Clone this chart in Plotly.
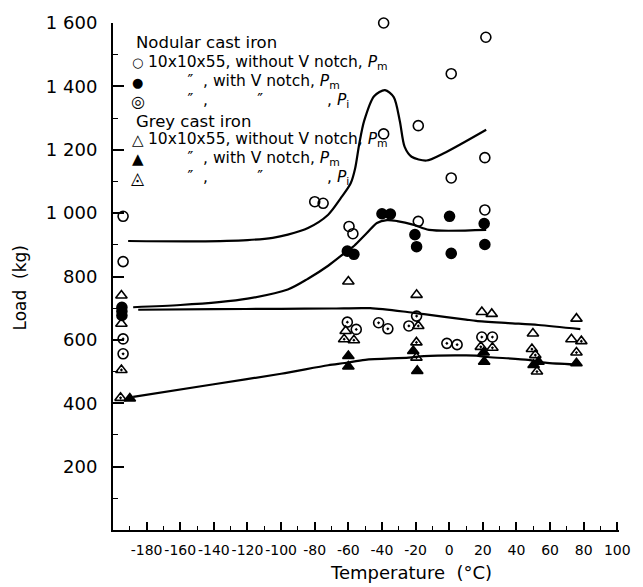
import plotly.graph_objects as go

# ---------------- data ----------------
# Nodular cast iron, 10x10x55 without V notch, Pm (open circles)
nod_plain_T = [-194, -194, -80, -75, -59.6, -57.3, -39, -39, -18.4, -18.4, 1.2, 1.2, 21.8, 21.2, 21.2]
nod_plain_L = [990, 847, 1036, 1031, 958, 935, 1600, 1250, 1276, 974, 1440, 1111, 1555, 1175, 1010]

# Nodular, with V notch, Pm (filled circles)
nod_notch_T = [-194.7, -194.7, -194.7, -60.6, -56.7, -40, -35, -20.4, -19.4, 0.2, 1.2, 20.8, 21.2]
nod_notch_L = [703, 690, 677, 880, 870, 998, 997, 932, 894, 990, 873, 967, 901]

# Nodular, with V notch, Pi (target circles)
nod_pi_T = [-194, -194, -60.6, -55.3, -42, -36.5, -19.4, -24, -1.4, 4.7, 19.4, 25.7]
nod_pi_L = [603, 556, 656, 633, 654, 635, 675, 644, 589, 585, 609, 609]

# Grey cast iron, without V notch, Pm (open triangles)
grey_plain_T = [-195, -195, -60, -61.6, -19.4, 19.4, 25.3, 49.8, 75.7, 72.7]
grey_plain_L = [740, 651, 784, 628, 742, 688, 682, 620, 667, 602]

# Grey, with V notch, Pm (filled triangles)
grey_notch_T = [-190, -60, -60, -21.4, -19, 20.8, 20.5, 53.1, 50.2, 75.7]
grey_notch_L = [415, 549, 516, 565, 502, 531, 560, 531, 521, 526]

# Grey, with V notch, Pi (hatched triangles)
grey_pi_T = [-195, -195.5, -62.5, -56.7, -18.4, -19.5, -19.5, 18.8, 25.7, 49.2, 51.2, 52.2, 78.6, 75.7]
grey_pi_L = [505, 417, 602, 599, 644, 592, 544, 578, 575, 571, 552, 500, 596, 560]

# Fitted curves
curve1_T = [-191, -150, -120, -105, -96, -84, -72, -64.5, -58.6, -56, -53.5, -50.6, -44.7, -38.2,
            -33, -29.4, -26.5, -22.4, -13.5, -3.5, 22]
curve1_L = [912, 911, 915, 922, 932, 953, 995, 1047, 1094, 1140, 1219, 1291, 1369, 1388,
            1366, 1291, 1209, 1178, 1166, 1188, 1263]

curve2_T = [-188, -160, -137, -120, -96, -84, -72, -62, -56.5, -49, -43, -37, -31, -21, -12, 22]
curve2_L = [703, 710, 719, 730, 759, 793, 834, 875, 897, 937, 969, 978, 975, 963, 947, 947]

curve3_T = [-185, -140, -100, -70, -47, -25, -15, 10, 16, 35, 53, 78]
curve3_L = [695, 697, 698, 699, 700, 688, 681, 664, 660, 653, 647, 634]

curve4_T = [-188, -140, -100, -72, -62, -50, -24, -15, 10, 16, 23, 47, 57, 75]
curve4_L = [420, 460, 493, 520, 527, 537, 544, 549, 551, 550, 546, 537, 528, 522]

y_ticks = [200, 400, 600, 800, 1000, 1200, 1400, 1600]
y_ticktext = ["200", "400", "600", "800", "1 000", "1 200", "1 400", "1 600"]
x_ticks = list(range(-180, 101, 20))
x_ticktext = [str(v) for v in x_ticks]

# ---------------- figure ----------------
FONT = "DejaVu Sans"
NB = "\u00a0"
DIT = "\u2033"
Pm = "<i>P</i><sub>m</sub>"
Pi = "<i>P</i><sub>i</sub>"

row_plain = "10x10x55, without V notch, " + Pm
row_notch = NB * 8 + DIT + NB * 2 + ", with V notch, " + Pm
row_pi = NB * 8 + DIT + NB * 2 + "," + NB * 10 + DIT + NB * 13 + ", " + Pi

legend_rows = [
    (None, 0, "Nodular cast iron"),
    ("\u25cb", 13, row_plain),
    ("\u25cf", 13, row_notch),
    ("\u25ce", 16, row_pi),
    (None, 0, "Grey cast iron"),
    ("\u25b3", 15, row_plain),
    ("\u25b2", 15, row_notch),
    ("\u25ec", 17, row_pi),
]

fig = go.Figure()

for T, L in [(curve1_T, curve1_L), (curve2_T, curve2_L), (curve3_T, curve3_L), (curve4_T, curve4_L)]:
    fig.add_trace(go.Scatter(x=T, y=L, mode="lines", showlegend=False, hoverinfo="skip",
                             line=dict(color="black", width=2.2, shape="spline", smoothing=0.8)))

series = [
    (nod_plain_T, nod_plain_L, "circle-open"),
    (nod_notch_T, nod_notch_L, "circle"),
    (nod_pi_T, nod_pi_L, "circle-open-dot"),
    (grey_plain_T, grey_plain_L, "triangle-up-open"),
    (grey_notch_T, grey_notch_L, "triangle-up"),
    (grey_pi_T, grey_pi_L, "triangle-up-open-dot"),
]
for T, L, sym in series:
    fig.add_trace(go.Scatter(
        x=T, y=L, mode="markers", showlegend=False, cliponaxis=False,
        marker=dict(symbol=sym, size=10, color="black", line=dict(color="black", width=1.6)),
    ))


def px(x):
    return (x - 113) / 512


def py(y):
    return (530 - y) / 512


annotations = [
    dict(text="Load" + NB * 2 + "(kg)", xref="paper", yref="paper", x=px(19), y=py(285),
         textangle=-90, showarrow=False, xanchor="center", yanchor="middle",
         font=dict(family=FONT, size=17)),
    dict(text="Temperature" + NB * 2 + "(°C)", xref="paper", yref="paper", x=px(415),
         y=py(573), showarrow=False, xanchor="center", yanchor="middle",
         font=dict(family=FONT, size=18)),
]
row_y = [38, 58, 78, 97, 117, 136, 155, 175]
for (sym, ssize, txt), yy in zip(legend_rows, row_y):
    if sym is None:
        annotations.append(dict(text=txt, xref="paper", yref="paper", x=px(134), y=py(yy),
                                xanchor="left", yanchor="middle", showarrow=False,
                                font=dict(family=FONT, size=16.5)))
    else:
        annotations.append(dict(text=sym, xref="paper", yref="paper", x=px(138), y=py(yy),
                                xanchor="center", yanchor="middle", showarrow=False,
                                font=dict(family=FONT, size=ssize)))
        annotations.append(dict(text=txt, xref="paper", yref="paper", x=px(146), y=py(yy),
                                xanchor="left", yanchor="middle", showarrow=False,
                                font=dict(family=FONT, size=15.5)))

fig.update_layout(
    width=643, height=587,
    margin=dict(l=113, r=18, t=18, b=57),
    paper_bgcolor="white", plot_bgcolor="white",
    font=dict(family=FONT, color="black"),
    showlegend=False,
    xaxis=dict(range=[-200, 101], showline=True, linecolor="black", linewidth=2, showgrid=False,
               zeroline=False, ticks="inside", ticklen=8, tickwidth=1.5, tickcolor="black",
               tickvals=x_ticks, ticktext=x_ticktext, tickfont=dict(family=FONT, size=14),
               tickangle=0, ticklabelstandoff=6,
               minor=dict(dtick=10, tick0=0, ticks="inside", ticklen=4, tickwidth=1.2, tickcolor="black")),
    yaxis=dict(range=[0, 1600], showline=True, linecolor="black", linewidth=2, showgrid=False,
               zeroline=False, ticks="inside", ticklen=11, tickwidth=1.5, tickcolor="black",
               tickvals=y_ticks, ticktext=y_ticktext, tickfont=dict(family=FONT, size=18),
               ticklabelstandoff=10,
               minor=dict(dtick=100, tick0=0, ticks="inside", ticklen=5, tickwidth=1.2, tickcolor="black")),
    annotations=annotations,
)

fig.write_html("out.html")
